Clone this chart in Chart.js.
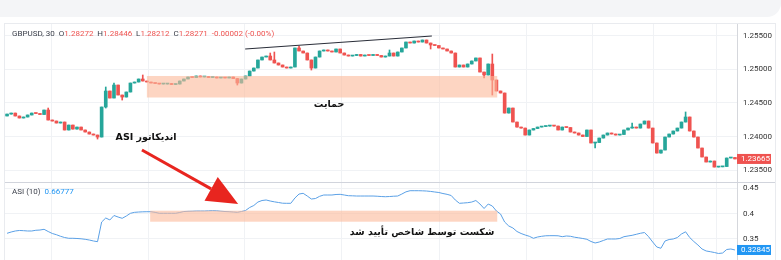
<!DOCTYPE html>
<html>
<head>
<meta charset="utf-8">
<script src="https://cdn.jsdelivr.net/npm/chart.js@4.4.1/dist/chart.umd.min.js"></script>
<style>
  html, body { margin: 0; padding: 0; background: #fff; }
  body { width: 781px; height: 260px; position: relative; overflow: hidden; }
  .topbar { position: absolute; left: 0; top: 0; width: 781px; height: 17px; background: #f4f5f7; border-radius: 0 0 14px 0; }
  .card { position: absolute; left: 4px; top: 23px; width: 772px; height: 240px; border: 1px solid #e9ebef; box-sizing: border-box; }
  #chart { position: absolute; left: 0; top: 0; }
</style>
</head>
<body>
<div class="topbar"></div>
<div class="card"></div>
<canvas id="chart" width="781" height="260"></canvas>
<script>
// GBPUSD 30m candles (close of each bar; open = previous close)
const firstOpen = 1.24306;
const closes = [
  1.24335, 1.24350, 1.24306, 1.24276, 1.24291, 1.24321, 1.24350, 1.24343, 1.24328, 1.24395,
  1.24246, 1.24231, 1.24201, 1.24216, 1.24097, 1.24171, 1.24111, 1.24141, 1.24097, 1.24067,
  1.24037, 1.24022, 1.23992, 1.24440, 1.24679, 1.24574, 1.24768, 1.24619, 1.24589, 1.24664,
  1.24798, 1.24813, 1.24858, 1.24828, 1.24813, 1.24798, 1.24791, 1.24783, 1.24783, 1.24791,
  1.24776, 1.24783, 1.24828, 1.24858, 1.24888, 1.24880, 1.24903, 1.24888, 1.24895, 1.24880,
  1.24888, 1.24873, 1.24880, 1.24873, 1.24888, 1.24865, 1.24798, 1.24858, 1.24903, 1.24977,
  1.25022, 1.25142, 1.25186, 1.25201, 1.25142, 1.25097, 1.25067, 1.25037, 1.25022, 1.25037,
  1.25321, 1.25276, 1.25246, 1.25142, 1.25022, 1.25186, 1.25276, 1.25291, 1.25276, 1.25261,
  1.25306, 1.25246, 1.25216, 1.25201, 1.25209, 1.25224, 1.25201, 1.25216, 1.25209, 1.25224,
  1.25209, 1.25186, 1.25201, 1.25246, 1.25201, 1.25261, 1.25321, 1.25410, 1.25395, 1.25425,
  1.25410, 1.25440, 1.25395, 1.25366, 1.25358, 1.25321, 1.25306, 1.25276, 1.25246, 1.25037,
  1.25067, 1.25037, 1.25082, 1.25127, 1.25172, 1.24962, 1.24918, 1.25082, 1.24843, 1.24679,
  1.24649, 1.24350, 1.24425, 1.24216, 1.24141, 1.24126, 1.24022, 1.24097, 1.24119, 1.24141,
  1.24149, 1.24156, 1.24161, 1.24156, 1.24097, 1.24141, 1.24134, 1.24067, 1.24052, 1.24022,
  1.24000, 1.24097, 1.23903, 1.23910, 1.23977, 1.24022, 1.24052, 1.24037, 1.24022, 1.24030,
  1.24097, 1.24126, 1.24141, 1.24126, 1.24186, 1.24231, 1.24126, 1.23903, 1.23753, 1.23798,
  1.23992, 1.24037, 1.24082, 1.24126, 1.24216, 1.24291, 1.24082, 1.23992, 1.23828, 1.23694,
  1.23619, 1.23634, 1.23544, 1.23547, 1.23552, 1.23679, 1.23687, 1.23665
];
// visible wicks (bar index -> price)
const wickHigh = { 10: 1.24425, 24: 1.24739, 26: 1.24798, 33: 1.24918, 64: 1.25246, 65: 1.25261,
  71: 1.25351, 93: 1.25291, 118: 1.25231, 152: 1.24201, 165: 1.24366 };
const wickLow = { 22: 1.23962, 24: 1.24425, 28: 1.24544, 56: 1.24768, 74: 1.24992, 103: 1.25306,
  116: 1.24873, 118: 1.24619, 143: 1.23828 };

// ASI (10)
const asi = [
  0.3612, 0.3637, 0.3657, 0.3667, 0.3663, 0.3657, 0.3657, 0.3671, 0.3676, 0.3690,
  0.3647, 0.3608, 0.3584, 0.3553, 0.3529, 0.3514, 0.3514, 0.3510, 0.3504, 0.3494,
  0.3480, 0.3461, 0.3447, 0.3833, 0.3912, 0.3873, 0.3961, 0.3931, 0.3906, 0.3951,
  0.4004, 0.4023, 0.4029, 0.4033, 0.4035, 0.4035, 0.4023, 0.4004, 0.4004, 0.4004,
  0.4004, 0.4004, 0.4020, 0.4039, 0.4043, 0.4045, 0.4049, 0.4049, 0.4049, 0.4053,
  0.4055, 0.4053, 0.4045, 0.4039, 0.4035, 0.4029, 0.4023, 0.4039, 0.4059, 0.4118,
  0.4157, 0.4225, 0.4255, 0.4265, 0.4245, 0.4229, 0.4216, 0.4202, 0.4200, 0.4200,
  0.4304, 0.4382, 0.4396, 0.4343, 0.4284, 0.4294, 0.4337, 0.4363, 0.4363, 0.4363,
  0.4373, 0.4376, 0.4363, 0.4349, 0.4347, 0.4343, 0.4343, 0.4343, 0.4343, 0.4343,
  0.4339, 0.4333, 0.4329, 0.4333, 0.4339, 0.4343, 0.4382, 0.4425, 0.4447, 0.4447,
  0.4447, 0.4445, 0.4441, 0.4433, 0.4422, 0.4412, 0.4392, 0.4376, 0.4353, 0.4265,
  0.4200, 0.4206, 0.4212, 0.4225, 0.4255, 0.4186, 0.4098, 0.4186, 0.4147, 0.4049,
  0.3990, 0.3833, 0.3755, 0.3716, 0.3647, 0.3608, 0.3578, 0.3553, 0.3514, 0.3539,
  0.3553, 0.3563, 0.3565, 0.3565, 0.3563, 0.3545, 0.3559, 0.3553, 0.3535, 0.3523,
  0.3510, 0.3494, 0.3451, 0.3422, 0.3441, 0.3471, 0.3500, 0.3500, 0.3500, 0.3510,
  0.3545, 0.3559, 0.3572, 0.3592, 0.3612, 0.3627, 0.3545, 0.3441, 0.3343, 0.3318,
  0.3461, 0.3490, 0.3500, 0.3529, 0.3598, 0.3641, 0.3529, 0.3451, 0.3382, 0.3304,
  0.3265, 0.3251, 0.3235, 0.3216, 0.3225, 0.3294, 0.3304, 0.32845
];

// axis ticks
const priceTicks = [1.255, 1.25, 1.245, 1.24, 1.235];
const asiTicks = [0.45, 0.4, 0.35];
const timeGrid = [22.6, 46.2, 69.5, 93.1, 117.4, 135.2, 149.5, 164.9];

// drawn annotations (bar index / price / asi units)
const supportZone = { from: 34.0, to: 119.2, top: 1.24903, bottom: 1.24582 };
const asiZone = { from: 34.8, to: 119.2, top: 0.4055, bottom: 0.3839 };
const trendLine = { from: 57.9, p0: 1.25306, to: 103.3, p1: 1.25500 };

const UP = '#26a69a', DOWN = '#ef5350';

const opens = closes.map((c, i) => i === 0 ? firstOpen : closes[i - 1]);
const highs = closes.map((c, i) => wickHigh[i] ?? Math.max(opens[i], c));
const lows = closes.map((c, i) => wickLow[i] ?? Math.min(opens[i], c));
const colors = closes.map((c, i) => c >= opens[i] ? UP : DOWN);

const overlay = {
  id: 'overlay',
  afterDatasetsDraw(chart) {
    const { ctx, chartArea, scales: { x, y, y2 } } = chart;
    ctx.save();

    // shaded zones
    ctx.fillStyle = 'rgba(252,185,153,0.6)';
    let x0 = x.getPixelForValue(supportZone.from), x1 = x.getPixelForValue(supportZone.to);
    let t = y.getPixelForValue(supportZone.top), b = y.getPixelForValue(supportZone.bottom);
    ctx.fillRect(x0, t, x1 - x0, b - t);
    x0 = x.getPixelForValue(asiZone.from); x1 = x.getPixelForValue(asiZone.to);
    t = y2.getPixelForValue(asiZone.top); b = y2.getPixelForValue(asiZone.bottom);
    ctx.fillRect(x0, t, x1 - x0, b - t);

    // trend line over the highs
    ctx.strokeStyle = '#2a2e39';
    ctx.lineWidth = 1.2;
    ctx.beginPath();
    ctx.moveTo(x.getPixelForValue(trendLine.from), y.getPixelForValue(trendLine.p0));
    ctx.lineTo(x.getPixelForValue(trendLine.to), y.getPixelForValue(trendLine.p1));
    ctx.stroke();

    // pane separator
    ctx.strokeStyle = '#d1d4dc';
    ctx.lineWidth = 1;
    ctx.beginPath();
    ctx.moveTo(chartArea.left, Math.round(y.bottom) + 0.5);
    ctx.lineTo(775, Math.round(y.bottom) + 0.5);
    ctx.stroke();

    // red arrow
    const ax0 = x.getPixelForValue(32.8), ay0 = y.getPixelForValue(1.23798);
    const ax1 = x.getPixelForValue(56.2), ay1 = y2.getPixelForValue(0.4186);
    const ang = Math.atan2(ay1 - ay0, ax1 - ax0);
    const headLen = 31, headW = 13.5;
    const bx = ax1 - headLen * Math.cos(ang), by = ay1 - headLen * Math.sin(ang);
    ctx.strokeStyle = '#e8251f';
    ctx.fillStyle = '#e8251f';
    ctx.lineWidth = 3;
    ctx.beginPath();
    ctx.moveTo(ax0, ay0);
    ctx.lineTo(bx, by);
    ctx.stroke();
    ctx.beginPath();
    ctx.moveTo(ax1, ay1);
    ctx.lineTo(bx + headW * Math.sin(ang), by - headW * Math.cos(ang));
    ctx.lineTo(bx - headW * Math.sin(ang), by + headW * Math.cos(ang));
    ctx.closePath();
    ctx.fill();

    // persian labels
    ctx.fillStyle = '#111';
    ctx.font = 'bold 9.5px "DejaVu Sans", sans-serif';
    ctx.textAlign = 'center';
    ctx.textBaseline = 'middle';
    ctx.direction = 'rtl';
    ctx.fillText('حمایت', x.getPixelForValue(78.3), y.getPixelForValue(1.24470));
    ctx.fillText('اندیکاتور ASI', x.getPixelForValue(33.8), y.getPixelForValue(1.23978));
    ctx.fillText('شکست توسط شاخص تأیید شد', x.getPixelForValue(100.9), y2.getPixelForValue(0.3618));
    ctx.direction = 'ltr';

    // legend lines
    ctx.textAlign = 'left';
    ctx.font = '8px Roboto, sans-serif';
    let px = 12;
    const parts = [['GBPUSD, 30  ', '#3b3f4a'], ['O', '#3b3f4a'], ['1.28272', DOWN], ['  H', '#3b3f4a'],
      ['1.28446', DOWN], ['  L', '#3b3f4a'], ['1.28212', DOWN], ['  C', '#3b3f4a'], ['1.28271', DOWN],
      ['  -0.00002 (-0.00%)', DOWN]];
    parts.forEach(([txt, col]) => {
      ctx.fillStyle = col;
      ctx.fillText(txt, px, 34);
      px += ctx.measureText(txt).width;
    });
    ctx.fillStyle = '#3b3f4a';
    ctx.fillText('ASI (10)', 12, 192);
    ctx.fillStyle = '#2196f3';
    ctx.fillText('0.66777', 12 + ctx.measureText('ASI (10)  ').width, 192);

    // last value tags
    const tag = (val, scale, bg, txt) => {
      const ty = scale.getPixelForValue(val);
      ctx.fillStyle = bg;
      ctx.fillRect(737, ty - 5, 34, 10);
      ctx.fillStyle = '#fff';
      ctx.textBaseline = 'middle';
      ctx.fillText(txt, 741, ty + 0.5);
    };
    tag(closes[closes.length - 1], y, DOWN, closes[closes.length - 1].toFixed(5));
    tag(asi[asi.length - 1], y2, '#2196f3', asi[asi.length - 1].toFixed(5));

    ctx.restore();
  }
};

const idx = closes.map((c, i) => i);

// right axes: fixed width, no extra label padding above/below the panes
const fitAxis = s => { s.width = 38; s.paddingTop = 0; s.paddingBottom = 0; };

new Chart(document.getElementById('chart'), {
  type: 'bar',
  data: {
    datasets: [
      {
        label: 'wick',
        data: idx.map(i => ({ x: i, y: [lows[i], highs[i]] })),
        backgroundColor: colors,
        barThickness: 1,
        grouped: false,
        yAxisID: 'y',
        order: 2
      },
      {
        label: 'body',
        data: idx.map(i => ({ x: i, y: [opens[i], closes[i]] })),
        backgroundColor: colors,
        barThickness: 3,
        minBarLength: 1,
        grouped: false,
        yAxisID: 'y',
        order: 1
      },
      {
        type: 'line',
        label: 'ASI',
        data: idx.map(i => ({ x: i, y: asi[i] })),
        borderColor: '#5aa0e6',
        borderWidth: 1,
        pointRadius: 0,
        tension: 0,
        yAxisID: 'y2',
        order: 0
      }
    ]
  },
  options: {
    responsive: false,
    animation: false,
    layout: { autoPadding: false, padding: { top: 24, left: 5, right: 6, bottom: 0 } },
    plugins: { legend: { display: false }, tooltip: { enabled: false } },
    scales: {
      x: {
        type: 'linear',
        offset: false,
        min: -0.5,
        max: closes.length - 0.5,
        afterBuildTicks: s => { s.ticks = timeGrid.map(v => ({ value: v })); },
        afterFit: s => { s.height = 0; },
        ticks: { display: false },
        grid: { color: '#f0f2f5', drawTicks: false },
        border: { display: false }
      },
      y: {
        type: 'linear',
        position: 'right',
        stack: 'panes',
        stackWeight: 158,
        min: 1.23321,
        max: 1.25679,
        afterBuildTicks: s => { s.ticks = priceTicks.map(v => ({ value: v })); },
        afterFit: fitAxis,
        ticks: { callback: v => v.toFixed(5), font: { size: 8, family: 'Roboto' }, color: '#333', padding: 6 },
        grid: { color: '#f0f2f5', drawTicks: false },
        border: { color: '#d5d7dc' }
      },
      y2: {
        type: 'linear',
        position: 'right',
        stack: 'panes',
        stackWeight: 78,
        min: 0.3088,
        max: 0.4618,
        afterBuildTicks: s => { s.ticks = asiTicks.map(v => ({ value: v })); },
        afterFit: fitAxis,
        ticks: { callback: v => String(v), font: { size: 8, family: 'Roboto' }, color: '#333', padding: 6 },
        grid: { color: '#f0f2f5', drawTicks: false },
        border: { color: '#d5d7dc' }
      }
    }
  },
  plugins: [overlay]
});
</script>
</body>
</html>
